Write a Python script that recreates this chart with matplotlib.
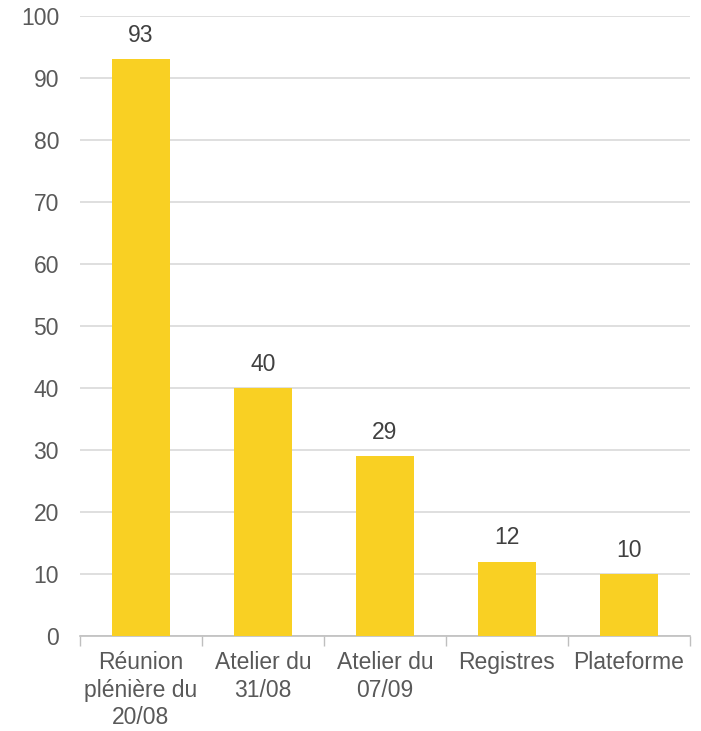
import matplotlib
matplotlib.use("Agg")
import matplotlib.pyplot as plt
import numpy as np

categories = ["Réunion\nplénière du\n20/08", "Atelier du\n31/08", "Atelier du\n07/09", "Registres", "Plateforme"]
values = [93, 40, 29, 12, 10]
yticks = [0, 10, 20, 30, 40, 50, 60, 70, 80, 90, 100]

plt.rcParams['font.family'] = ['Liberation Sans', 'DejaVu Sans']
txt_color = '#595959'
grid_color = '#D9D9D9'
fs = 16.5

fig = plt.figure(figsize=(7.01, 7.31), dpi=100)
ax = fig.add_axes([0.114, 0.130, 0.870, 0.848])

x = np.arange(len(categories))
bars = ax.bar(x, values, width=0.48, color='#F9D023', zorder=3)

# valeurs au-dessus des barres
for xi, v in zip(x, values):
    ax.text(xi, v + 2.0, str(v), ha='center', va='bottom', fontsize=fs, color='#404040')

ax.set_xlim(-0.5, len(categories) - 0.5)
ax.set_ylim(0, 100)
ax.set_yticks(yticks)
ax.set_yticklabels([str(t) for t in yticks], fontsize=fs, color=txt_color)
ax.yaxis.grid(True, color=grid_color, linewidth=1.2, zorder=0)
ax.tick_params(axis='y', length=0, pad=15)

# étiquettes centrées, petits traits entre les catégories
ax.set_xticks(x)
ax.set_xticklabels(categories, fontsize=fs, color=txt_color, linespacing=1.24)
ax.tick_params(axis='x', which='major', length=0, pad=11)
ax.set_xticks(np.arange(-0.5, len(categories)), minor=True)
ax.tick_params(axis='x', which='minor', length=7, color='#BFBFBF', width=1)

for s in ['top', 'right', 'left']:
    ax.spines[s].set_visible(False)
ax.spines['bottom'].set_color('#BFBFBF')
ax.spines['bottom'].set_linewidth(1.2)

fig.savefig("out.png", dpi=100)
